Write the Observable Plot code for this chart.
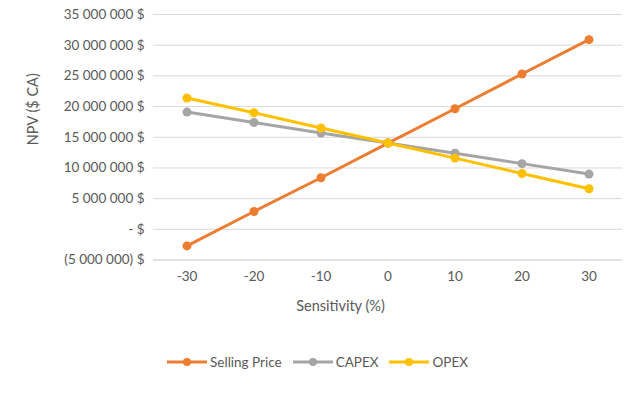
<!DOCTYPE html>
<html>
<head>
<meta charset="utf-8">
<script src="https://cdn.jsdelivr.net/npm/d3@7"></script>
<script src="https://cdn.jsdelivr.net/npm/@observablehq/plot@0.6"></script>
<style>
  body { margin: 0; background: #fff; font-family: Lato, "Open Sans", sans-serif; }
  #wrap { position: relative; width: 634px; height: 399px; }
  #legend { position: absolute; left: 0; top: 352px; width: 634px; height: 20px; display: flex; justify-content: center; align-items: center; font-size: 13.5px; color: #595959; }
  .item { display: flex; align-items: center; margin: 0 5px; }
  .item svg { margin-right: 2px; }
</style>
</head>
<body>
<div id="wrap"><div id="chart"></div><div id="legend"></div></div>
<script>
const sensitivity = [-30, -20, -10, 0, 10, 20, 30];
const sellingPrice = [-2700000, 2900000, 8400000, 14050000, 19650000, 25300000, 30900000];
const capex = [19100000, 17400000, 15700000, 14050000, 12400000, 10700000, 9000000];
const opex = [21400000, 19000000, 16500000, 14050000, 11600000, 9100000, 6600000];
const seriesNames = ["Selling Price", "CAPEX", "OPEX"];
const seriesColors = ["#ED7D31", "#A5A5A5", "#FFC000"];
const yTicks = [-5000000, 0, 5000000, 10000000, 15000000, 20000000, 25000000, 30000000, 35000000];
const xTicks = [-30, -20, -10, 0, 10, 20, 30];

const seriesValues = [sellingPrice, capex, opex];
const data = seriesNames.flatMap((name, i) => sensitivity.map((s, j) => ({series: name, x: s, y: seriesValues[i][j]})));

const grp = v => d3.format(",")(v).replace(/,/g, " ");
const fmtY = d => d === 0 ? "- $" : d < 0 ? `(${grp(-d)}) $` : `${grp(d)} $`;

const textColor = "#595959";

const chart = Plot.plot({
  width: 634,
  height: 330,
  marginLeft: 153,
  marginRight: 12,
  marginTop: 14,
  marginBottom: 70.5,
  style: {fontFamily: "Lato, 'Open Sans', sans-serif", fontSize: "13.5px", color: textColor, background: "transparent"},
  x: {domain: [-35, 35], ticks: xTicks, label: null},
  y: {domain: [-5000000, 35000000], ticks: yTicks, label: null},
  color: {domain: seriesNames, range: seriesColors},
  marks: [
    Plot.ruleY(yTicks.filter(t => t !== -5000000), {stroke: "#d9d9d9", strokeWidth: 1}),
    Plot.ruleY([-5000000], {stroke: "#d9d9d9", strokeWidth: 1.5}),
    Plot.axisY({ticks: yTicks, tickSize: 0, tickPadding: 9, tickFormat: fmtY, label: null, fill: textColor}),
    Plot.axisX({ticks: xTicks, tickSize: 0, tickPadding: 11, tickFormat: d => String(d), label: null, fill: textColor}),
    Plot.line(data, {x: "x", y: "y", stroke: "series", z: "series", strokeWidth: 3, strokeLinecap: "round", strokeLinejoin: "round"}),
    Plot.dot(data, {x: "x", y: "y", fill: "series", r: 4.5, stroke: null}),
    Plot.text(["NPV ($ CA)"], {frameAnchor: "left", text: d => d, rotate: -90, dx: -120, dy: 8, fill: textColor, fontSize: 14.5}),
    Plot.text(["Sensitivity (%)"], {frameAnchor: "bottom", lineAnchor: "middle", text: d => d, dx: -47.5, dy: 46.5, fill: textColor, fontSize: 14.5})
  ]
});
document.getElementById("chart").appendChild(chart);

const legend = document.getElementById("legend");
seriesNames.forEach((name, i) => {
  const item = document.createElement("div");
  item.className = "item";
  item.innerHTML = `<svg width="42" height="12"><line x1="1" y1="6" x2="41" y2="6" stroke="${seriesColors[i]}" stroke-width="3"/><circle cx="21" cy="6" r="4" fill="${seriesColors[i]}"/></svg><span>${name}</span>`;
  legend.appendChild(item);
});
</script>
</body>
</html>
